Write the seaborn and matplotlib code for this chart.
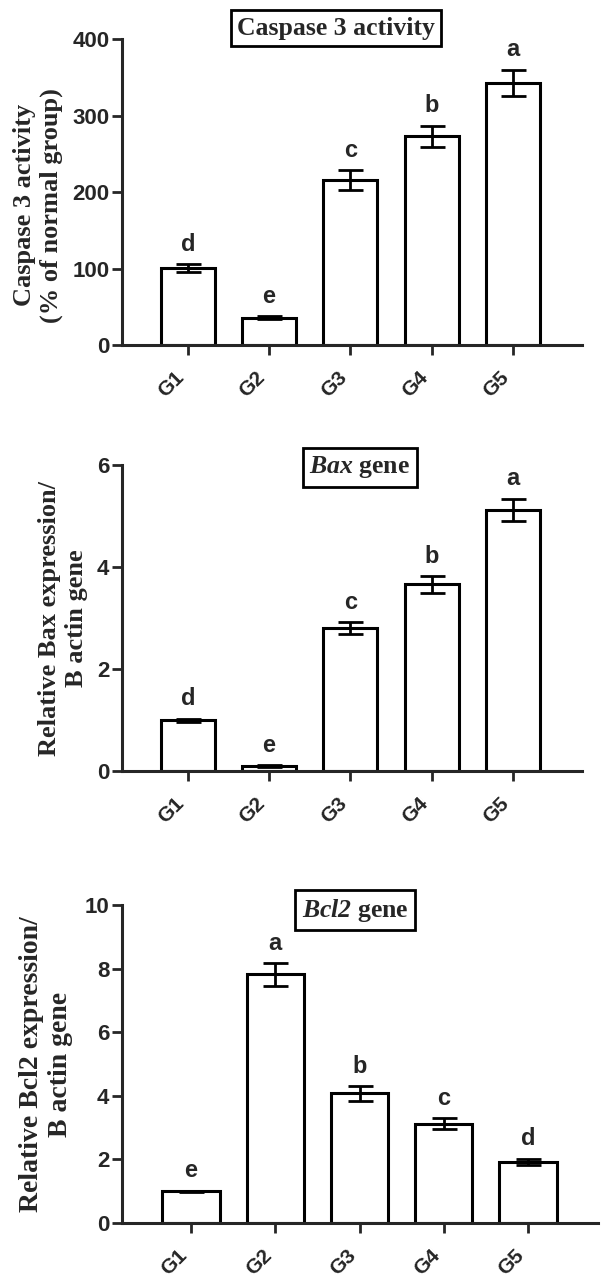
"""Caspase 3 / Bax / Bcl2 bar charts"""
import matplotlib
matplotlib.use('Agg')
import matplotlib.pyplot as plt
import seaborn as sns

groups = ['G1', 'G2', 'G3', 'G4', 'G5']

# Caspase 3 activity (% of normal group)
casp_mean = [101, 36, 216, 273, 343]
casp_sem = [5, 2, 13, 14, 17]
casp_letters = ['d', 'e', 'c', 'b', 'a']

# Bax gene
bax_mean = [1.0, 0.1, 2.8, 3.66, 5.12]
bax_sem = [0.03, 0.02, 0.12, 0.16, 0.22]
bax_letters = ['d', 'e', 'c', 'b', 'a']

# Bcl2 gene
bcl2_mean = [1.0, 7.82, 4.08, 3.12, 1.92]
bcl2_sem = [0.02, 0.36, 0.23, 0.18, 0.1]
bcl2_letters = ['e', 'a', 'b', 'c', 'd']

sns.set_style('ticks')
plt.rcParams['font.family'] = ['Liberation Sans', 'DejaVu Sans']
plt.rcParams['font.weight'] = 'bold'
# math text only used for the italic gene names in the titles
plt.rcParams['mathtext.fontset'] = 'custom'
plt.rcParams['mathtext.it'] = 'Liberation Serif:italic:bold'
plt.rcParams['mathtext.rm'] = 'Liberation Serif:italic:bold'

SERIF = 'Liberation Serif'


def draw_panel(ax, means, sems, letters, ylim, yticks, ylabel, title, title_xy,
               label_xy, xlim, width, lfs):
    sns.barplot(x=groups, y=means, color='white', edgecolor='black',
                linewidth=2.2, width=width, errorbar=None, ax=ax, zorder=2)
    ax.errorbar(range(len(groups)), means, yerr=sems, fmt='none', ecolor='black',
                elinewidth=2, capsize=9, capthick=2, zorder=3)
    for i, (m, s, l) in enumerate(zip(means, sems, letters)):
        ax.annotate(l, (i, m + s), xytext=(0, 6), textcoords='offset points',
                    ha='center', va='bottom', fontsize=17, fontweight='bold')
    ax.set_xlim(*xlim)
    ax.set_ylim(*ylim)
    ax.set_yticks(yticks)
    ax.set_yticklabels([str(t) for t in yticks], fontsize=16, fontweight='bold')
    ax.set_xticks(range(len(groups)))
    ax.set_xticklabels(groups, fontsize=15, fontweight='bold', rotation=45,
                       ha='right')
    ax.tick_params(axis='both', length=7, width=2)
    ax.tick_params(axis='x', pad=9)
    ax.tick_params(axis='y', pad=2)
    for sp in ['top', 'right']:
        ax.spines[sp].set_visible(False)
    for sp in ['left', 'bottom']:
        ax.spines[sp].set_linewidth(2.2)
    ax.set_xlabel('')
    ax.set_ylabel(ylabel, family=SERIF, fontweight='bold', fontsize=lfs,
                  linespacing=1.2)
    ax.yaxis.set_label_coords(*label_xy)
    ax.text(title_xy[0], title_xy[1], title, transform=ax.transAxes,
            ha='center', va='center', family=SERIF, fontweight='bold',
            fontsize=18.5, zorder=5,
            bbox=dict(boxstyle='square,pad=0.25', fc='white', ec='black', lw=2))


fig = plt.figure(figsize=(6.06, 12.77), dpi=100)
ax1 = fig.add_axes([0.2013, 0.7298, 0.759, 0.2396])
ax2 = fig.add_axes([0.2013, 0.3962, 0.759, 0.2396])
ax3 = fig.add_axes([0.2013, 0.0423, 0.7855, 0.2490])

draw_panel(ax1, casp_mean, casp_sem, casp_letters, (0, 400), [0, 100, 200, 300, 400],
           'Caspase 3 activity\n(% of normal group)', 'Caspase 3 activity',
           (0.465, 1.036), (-0.128, 0.457), (-0.81, 4.85), 0.665, 19)
draw_panel(ax2, bax_mean, bax_sem, bax_letters, (0, 6), [0, 2, 4, 6],
           'Relative Bax expression/\nB actin gene', r'$\mathit{Bax}$ gene',
           (0.517, 0.993), (-0.074, 0.5), (-0.81, 4.85), 0.665, 19)
draw_panel(ax3, bcl2_mean, bcl2_sem, bcl2_letters, (0, 10), [0, 2, 4, 6, 8, 10],
           'Relative Bcl2 expression/\nB actin gene', r'$\mathit{Bcl2}$ gene',
           (0.49, 0.984), (-0.103, 0.5), (-0.82, 4.83), 0.68, 20)

fig.savefig('out.png', dpi=100)
